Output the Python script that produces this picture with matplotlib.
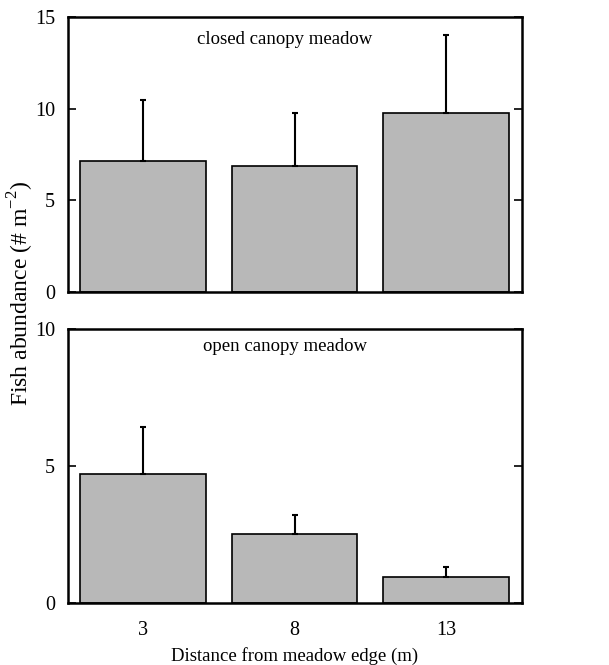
import matplotlib.pyplot as plt
import numpy as np

plt.rcParams['font.family'] = ['Liberation Serif', 'DejaVu Serif']
plt.rcParams['mathtext.fontset'] = 'custom'
plt.rcParams['mathtext.rm'] = 'Liberation Serif'

# data
distances = ['3', '8', '13']
closed_mean = [7.15, 6.89, 9.76]
closed_err = [3.32, 2.89, 4.30]
open_mean = [4.69, 2.52, 0.94]
open_err = [1.73, 0.68, 0.38]

bar_color = '#b8b8b8'


def draw_panel(ax, means, errs, ymax, yticks, label, label_xy):
    x = np.arange(len(means))
    ax.bar(x, means, width=0.83, color=bar_color, edgecolor='k', linewidth=1.2, zorder=2)
    ax.errorbar(x, means, yerr=[np.zeros(len(errs)), errs], fmt='none',
                ecolor='k', elinewidth=1.5, capsize=2.5, capthick=1.5, zorder=3)
    ax.set_xlim(-0.5, 2.5)
    ax.set_ylim(0, ymax)
    ax.set_yticks(yticks)
    ax.tick_params(axis='y', which='major', direction='in', length=6, width=1.2,
                   left=True, right=True, labelsize=14.5, pad=9)
    ax.tick_params(axis='x', length=0, labelsize=14.5, pad=13)
    for s in ax.spines.values():
        s.set_linewidth(1.8)
    ax.text(label_xy[0], label_xy[1], label, transform=ax.transAxes,
            ha='center', va='center', fontsize=13.5)


fig = plt.figure(figsize=(6.09, 6.65), dpi=100)
ax1 = fig.add_axes([0.111, 0.5614, 0.7455, 0.4123])
ax2 = fig.add_axes([0.111, 0.0937, 0.7455, 0.4116])

draw_panel(ax1, closed_mean, closed_err, 15, [0, 5, 10, 15],
           'closed canopy meadow', (0.479, 0.918))
ax1.set_xticks([])

draw_panel(ax2, open_mean, open_err, 10, [0, 5, 10],
           'open canopy meadow', (0.479, 0.937))
ax2.set_xticks(np.arange(len(distances)))
ax2.set_xticklabels(distances)
ax2.set_xlabel('Distance from meadow edge (m)', fontsize=13.5, labelpad=5)

fig.text(0.034, 0.559, 'Fish abundance (# m$^{\\mathregular{-2}}$)', rotation=90,
         ha='center', va='center', fontsize=17)

fig.savefig('out.png', dpi=100)
